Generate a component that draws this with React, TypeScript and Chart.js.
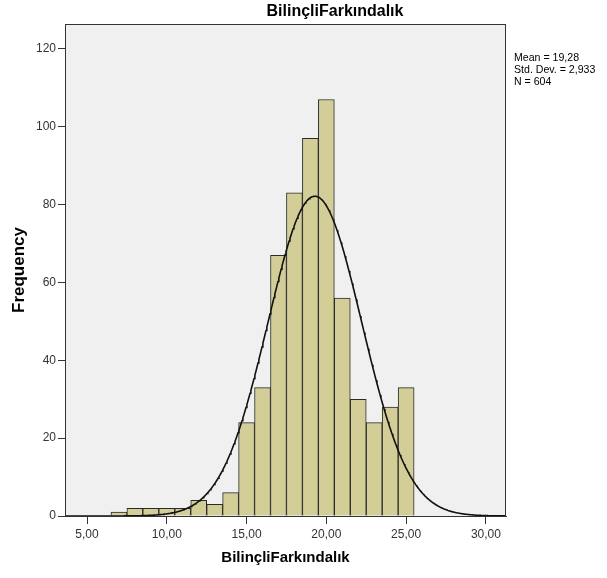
import React, { useEffect, useRef } from "react";
import { Chart, registerables } from "chart.js";

Chart.register(...registerables);

const TITLE = "BilinçliFarkındalık";
const X_TITLE = "BilinçliFarkındalık";
const Y_TITLE = "Frequency";
const STATS_LINES = ["Mean = 19,28", "Std. Dev. = 2,933", "N = 604"];

const BIN_CENTERS = [7, 8, 9, 10, 11, 12, 13, 14, 15, 16, 17, 18, 19, 20, 21, 22, 23, 24, 25];
const FREQUENCIES = [1, 2, 2, 2, 2, 4, 3, 6, 24, 33, 67, 83, 97, 107, 56, 30, 24, 28, 33];

const X_TICKS = [5, 10, 15, 20, 25, 30];
const Y_TICKS = [0, 20, 40, 60, 80, 100, 120];
const X_MIN = 3.62;
const X_MAX = 31.26;
const Y_MAX = 126.4;

// Normal curve parameters (as reported in the chart)
const MEAN = 19.28;
const SD = 2.933;
const N = 604;
const BIN_WIDTH = 1;

function normalCurve() {
  const pts: { x: number; y: number }[] = [];
  const k = (N * BIN_WIDTH) / (SD * Math.sqrt(2 * Math.PI));
  for (let x = X_MIN; x <= X_MAX + 1e-9; x += 0.05) {
    const z = (x - MEAN) / SD;
    pts.push({ x, y: k * Math.exp(-0.5 * z * z) });
  }
  return pts;
}

const FONT = "'Liberation Sans', Arial, sans-serif";

const framePlugin = {
  id: "spssFrame",
  beforeDatasetsDraw(chart: any) {
    const { ctx, chartArea } = chart;
    ctx.save();
    ctx.fillStyle = "#F0F0F0";
    ctx.fillRect(chartArea.left, chartArea.top, chartArea.right - chartArea.left, chartArea.bottom - chartArea.top);
    ctx.restore();
  },
  afterDraw(chart: any) {
    const { ctx, chartArea } = chart;
    ctx.save();
    ctx.strokeStyle = "#333333";
    ctx.lineWidth = 1;
    ctx.strokeRect(chartArea.left + 0.5, chartArea.top + 0.5, chartArea.right - chartArea.left - 1, chartArea.bottom - chartArea.top);
    // title
    ctx.fillStyle = "#000";
    ctx.font = `bold 16px ${FONT}`;
    ctx.textAlign = "center";
    ctx.textBaseline = "middle";
    ctx.fillText(TITLE, 335, 12);
    // stats
    ctx.font = `10.6px ${FONT}`;
    ctx.textAlign = "left";
    STATS_LINES.forEach((t, i) => ctx.fillText(t, 514, 58 + i * 12.2));
    ctx.restore();
  },
};

export default function App() {
  const ref = useRef<HTMLCanvasElement | null>(null);
  useEffect(() => {
    if (!ref.current) return;
    const chart = new Chart(ref.current, {
      type: "bar",
      data: {
        datasets: [
          {
            type: "line",
            data: normalCurve(),
            borderColor: "#111111",
            borderWidth: 1.6,
            pointRadius: 0,
            tension: 0,
            fill: false,
            order: 0,
          } as any,
          {
            type: "bar",
            data: BIN_CENTERS.map((c, i) => ({ x: c, y: FREQUENCIES[i] })),
            backgroundColor: "#D3CE97",
            borderColor: "#2A2A2A",
            borderWidth: 1,
            barPercentage: 1,
            categoryPercentage: 1,
            order: 1,
          } as any,
        ],
      },
      options: {
        responsive: false,
        animation: false,
        layout: { padding: { top: 24, right: 101, left: 0, bottom: 0 } },
        plugins: { legend: { display: false }, title: { display: false }, tooltip: { enabled: false } },
        scales: {
          x: {
            type: "linear",
            min: X_MIN,
            max: X_MAX,
            offset: false,
            afterBuildTicks: (s: any) => {
              s.ticks = X_TICKS.map((v) => ({ value: v }));
            },
            afterFit: (s: any) => {
              s.height = 62;
            },
            grid: { offset: false, drawOnChartArea: false, drawTicks: true, tickLength: 8, tickColor: "#333333" },
            border: { display: true, color: "#333333" },
            ticks: {
              padding: 3,
              color: "#333333",
              font: { size: 12, family: FONT },
              maxRotation: 0,
              autoSkip: false,
              callback: (v: any) => Number(v).toFixed(2).replace(".", ","),
            },
            title: {
              display: true,
              text: X_TITLE,
              color: "#000",
              font: { size: 15, weight: "bold", family: FONT },
              padding: { top: 0, bottom: 11 },
            },
          },
          y: {
            type: "linear",
            min: 0,
            max: Y_MAX,
            afterBuildTicks: (s: any) => {
              s.ticks = Y_TICKS.map((v) => ({ value: v }));
            },
            afterFit: (s: any) => {
              s.width = 65;
            },
            grid: { offset: false, drawOnChartArea: false, drawTicks: true, tickLength: 7, tickColor: "#333333" },
            border: { display: true, color: "#333333" },
            ticks: {
              padding: 2,
              color: "#333333",
              font: { size: 12, family: FONT },
              autoSkip: false,
            },
            title: {
              display: true,
              text: Y_TITLE,
              color: "#000",
              font: { size: 17, weight: "bold", family: FONT },
              padding: { top: 9, bottom: 0 },
            },
          },
        },
      },
      plugins: [framePlugin],
    });
    return () => chart.destroy();
  }, []);
  return (
    <div style={{ position: "fixed", left: 0, top: 0, width: 607, height: 578, background: "#fff" }}>
      <canvas ref={ref} width={607} height={578} />
    </div>
  );
}
